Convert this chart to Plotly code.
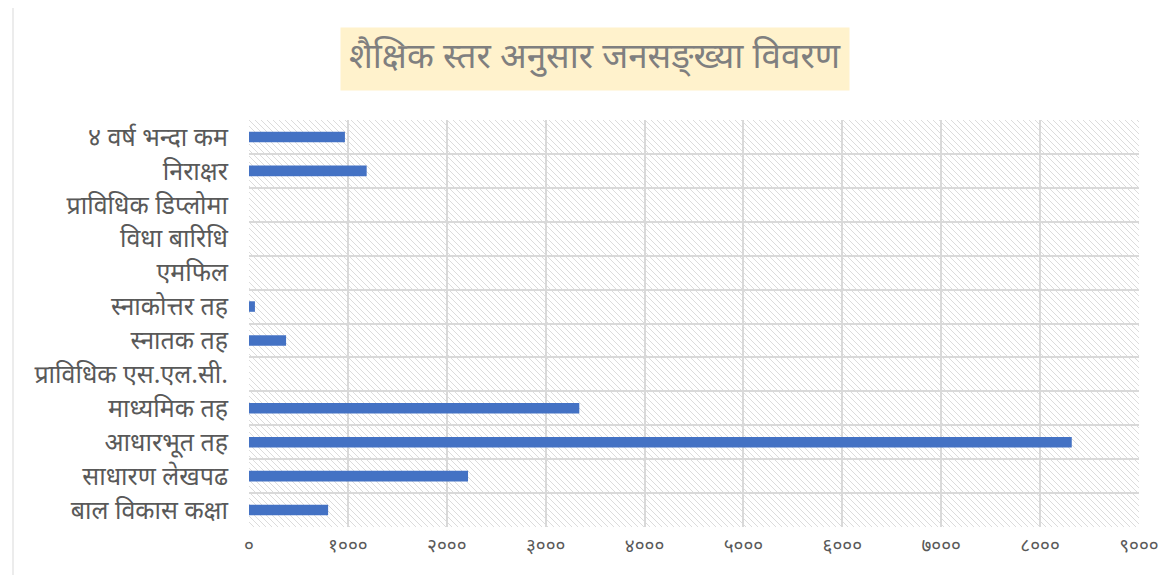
import base64
import plotly.graph_objects as go

# ---- data (top to bottom as shown) ----
categories = [
    "४ वर्ष भन्दा कम",
    "निराक्षर",
    "प्राविधिक डिप्लोमा",
    "विधा बारिधि",
    "एमफिल",
    "स्नाकोत्तर तह",
    "स्नातक तह",
    "प्राविधिक एस.एल.सी.",
    "माध्यमिक तह",
    "आधारभूत तह",
    "साधारण लेखपढ",
    "बाल विकास कक्षा",
]
values = [970, 1190, 0, 0, 0, 60, 375, 0, 3340, 8320, 2215, 800]
tick_values = [0, 1000, 2000, 3000, 4000, 5000, 6000, 7000, 8000, 9000]
tick_labels = ["०", "१०००", "२०००", "३०००", "४०००", "५०००", "६०००", "७०००", "८०००", "९०००"]
title_text = "शैक्षिक स्तर अनुसार जनसङ्ख्या विवरण"

FONT = "Noto Sans Devanagari, Noto Sans, sans-serif"

# page body has an 8px margin: figure is placed at (8, 8)
W, H = 1164, 567
PL, PR, PT, PB = 241, 33, 112, 48
PW, PH = W - PL - PR, H - PT - PB

# hatched plot-area background (decoration)
svg = (
    f'<svg xmlns="http://www.w3.org/2000/svg" width="{PW}" height="{PH}" '
    f'viewBox="0 0 {PW} {PH}" preserveAspectRatio="none">'
    '<defs><pattern id="h" patternUnits="userSpaceOnUse" width="6" height="6">'
    '<path d="M-1,-1 L7,7 M-1,5 L1,7 M5,-1 L7,1" stroke="#dcdcdc" stroke-width="1"/>'
    f'</pattern></defs><rect width="{PW}" height="{PH}" fill="white"/>'
    f'<rect width="{PW}" height="{PH}" fill="url(#h)"/></svg>'
)
svg_uri = "data:image/svg+xml;base64," + base64.b64encode(svg.encode()).decode()

fig = go.Figure()
fig.add_trace(go.Bar(
    x=values, y=categories, orientation="h",
    marker=dict(color="#4472C4", line=dict(width=0)),
    width=0.31, hoverinfo="x+y",
))

fig.update_layout(
    width=W, height=H,
    margin=dict(l=PL, r=PR, t=PT, b=PB, autoexpand=False),
    paper_bgcolor="white",
    plot_bgcolor="rgba(0,0,0,0)",
    showlegend=False,
    font=dict(family=FONT, color="#595959"),
    xaxis=dict(
        range=[0, 9000], tickvals=tick_values, ticktext=tick_labels,
        showgrid=True, gridcolor="#d9d9d9", gridwidth=1.5,
        zeroline=False, showline=False, ticks="",
        tickfont=dict(size=19, color="#595959", family=FONT),
        ticklabelstandoff=5,
        fixedrange=True,
    ),
    yaxis=dict(
        type="category", autorange="reversed",
        tickson="boundaries", showgrid=True, gridcolor="#d9d9d9", gridwidth=1.5,
        showline=False, ticks="", ticklen=0,
        tickfont=dict(size=25, color="#595959", family=FONT),
        ticklabelstandoff=20,
        fixedrange=True,
    ),
    images=[dict(
        source=svg_uri, xref="paper", yref="paper", x=0, y=1,
        sizex=1, sizey=1, sizing="stretch", xanchor="left", yanchor="top",
        layer="below",
    )],
    annotations=[dict(
        text=title_text, xref="paper", yref="paper",
        x=(595 - 8 - PL) / PW, y=(H - PB - (59 - 8)) / PH,
        xanchor="center", yanchor="middle", showarrow=False,
        font=dict(size=35, color="#7f7f7f", family=FONT),
        bgcolor="#FFF2CC", borderpad=8,
    )],
    shapes=[
        dict(type="line", xref="paper", yref="paper",
             x0=(13 - 8 - PL) / PW, x1=(13 - 8 - PL) / PW,
             y0=-1, y1=2, line=dict(color="#d9d9d9", width=1)),
    ],
)

fig.write_html("out.html")
